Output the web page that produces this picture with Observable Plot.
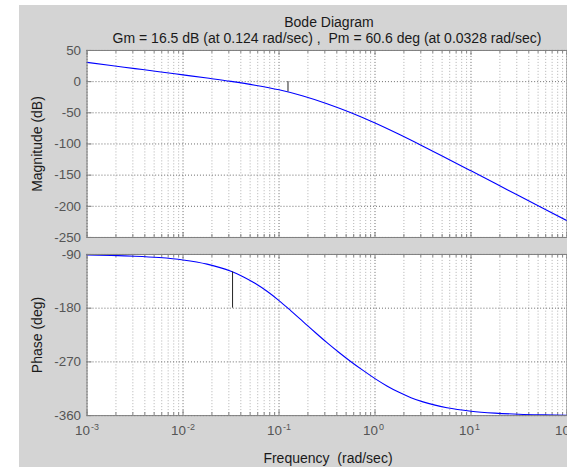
<!DOCTYPE html>
<html><head><meta charset="utf-8">
<script src="https://cdn.jsdelivr.net/npm/d3@7"></script>
<script src="https://cdn.jsdelivr.net/npm/@observablehq/plot@0.6"></script>
<style>
html,body{margin:0;padding:0;background:#fff;overflow:hidden;}
#fig{position:relative;width:567px;height:469px;overflow:hidden;background:#fff;font-family:"Liberation Sans",Arial,sans-serif;}
#bg{position:absolute;left:19px;top:5px;width:548px;height:462px;background:#d4d4d4;}
#fig svg.pl{position:absolute;left:0;}
#ov{position:absolute;left:0;top:0;}
#ov text{white-space:pre;}
</style></head><body><div id="fig"><div id="bg"></div></div>
<script>
// ---- data ----
const titleText = "Bode Diagram";
const subtitleText = "Gm = 16.5 dB (at 0.124 rad/sec) ,  Pm = 60.6 deg (at 0.0328 rad/sec)";
const magFreq = [0.001,0.00178,0.00316,0.00562,0.01,0.0178,0.0316,0.0562,0.1,0.178,0.316,0.562,1,1.78,3.16,5.62,10,17.8,31.6,56.2,100];
const magDb   = [30.9,25.9,20.9,15.9,10.8,5.7,0.4,-5.7,-13.1,-23.0,-35.4,-49.9,-66.3,-84.4,-103.5,-123.2,-143.1,-163.1,-183.1,-203.1,-223.1];
const phaseFreq = [0.001,0.00178,0.00316,0.00562,0.01,0.0178,0.0316,0.0422,0.0562,0.075,0.1,0.133,0.178,0.237,0.316,0.422,0.562,0.75,1,1.33,1.78,2.37,3.16,5.62,10,17.8,31.6,56.2,100];
const phaseDeg  = [-90.9,-91.6,-92.9,-95.2,-99.2,-106.2,-118.3,-127.2,-138.3,-151.7,-167.3,-184.4,-202.4,-220.3,-237.7,-254.2,-269.7,-284.3,-298.0,-310.3,-321.0,-329.9,-337.0,-346.9,-352.6,-355.8,-357.7,-358.7,-359.3];
const gmFreq = 0.124, gmDb = 16.5;
const pmFreq = 0.0328, pmDeg = 60.6;
const magTicks = [50,0,-50,-100,-150,-200,-250];
const phaseTicks = [-90,-180,-270,-360];
const decades = [1e-3,1e-2,1e-1,1,10,100];
const decadeExp = ["-3","-2","-1","0","1","2"];

const minor = decades.slice(0,-1).flatMap(d => [2,3,4,5,6,7,8,9].map(k => k*d));
const magData = magFreq.map((f,i)=>({f, v: magDb[i]}));
const phData = phaseFreq.map((f,i)=>({f, v: phaseDeg[i]}));
const font = '"Liberation Sans", Arial, sans-serif';
const gridMajor = "#6a6a6a", gridMinor = "#b0b0b0";

function panel({data, domain, ticks, innerH, mTop, mBottom, extra, pxPerUnit}) {
  const top = domain[1], bot = domain[0];
  const u = px => px / pxPerUnit;
  const tickMarks = [
    Plot.ruleX(minor, {y1: top, y2: top - u(3), stroke: "#7f7f7f"}),
    Plot.ruleX(minor, {y1: bot, y2: bot + u(3), stroke: "#7f7f7f"}),
    Plot.ruleX(decades, {y1: top, y2: top - u(5), stroke: "#7f7f7f"}),
    Plot.ruleX(decades, {y1: bot, y2: bot + u(5), stroke: "#7f7f7f"}),
    Plot.ruleY(ticks, {x1: 1e-3, x2: 1.127e-3, stroke: "#7f7f7f"})
  ];
  return Plot.plot({
    width: 570, height: mTop + innerH + mBottom,
    marginLeft: 87, marginRight: 0.5, marginTop: mTop, marginBottom: mBottom,
    style: {background: "transparent", fontFamily: font, fontSize: "13.5px", color: "#555555", overflow: "visible"},
    x: {type: "log", domain: [1e-3, 1e2], axis: null},
    y: {domain, ticks, tickSize: 0, tickPadding: 6, tickFormat: d => String(d), label: null},
    marks: [
      Plot.frame({fill: "white", stroke: "none"}),
      Plot.ruleX(minor, {stroke: gridMinor, strokeDasharray: "1,2"}),
      Plot.ruleX(decades, {stroke: gridMajor, strokeDasharray: "1,2"}),
      Plot.ruleY(ticks, {stroke: gridMajor, strokeDasharray: "1,2"}),
      ...tickMarks,
      Plot.line(data, {x: "f", y: "v", stroke: "#0000ff", strokeWidth: 1.1, curve: "monotone-x"}),
      ...extra,
      Plot.frame({stroke: "#7f7f7f"})
    ]
  });
}

const mag = panel({
  data: magData, domain: [-250, 50], ticks: magTicks, innerH: 188, mTop: 6, mBottom: 6,
  pxPerUnit: 188/300,
  extra: [Plot.ruleX([gmFreq], {y1: 0, y2: -gmDb, stroke: "#222"})]
});
mag.classList.add("pl"); mag.style.top = "44px";

const ph = panel({
  data: phData, domain: [-360, -90], ticks: phaseTicks, innerH: 162, mTop: 6, mBottom: 50,
  pxPerUnit: 162/270,
  extra: [
    Plot.ruleX([pmFreq], {y1: -180, y2: -180 + pmDeg, stroke: "#222"}),
    Plot.text(decades, {x: d => d, frameAnchor: "bottom", text: () => "10", textAnchor: "end", dx: 3, dy: 19.5, fill: "#555555", fontSize: 13.5}),
    Plot.text(decades, {x: d => d, frameAnchor: "bottom", text: (d, i) => decadeExp[i], textAnchor: "start", dx: 4, dy: 14, fill: "#555555", fontSize: 9})
  ]
});
ph.classList.add("pl"); ph.style.top = "248px";

const fig = document.getElementById("fig");
fig.appendChild(mag);
fig.appendChild(ph);

const ov = d3.select(fig).append("svg").attr("id","ov").attr("width",567).attr("height",469)
  .style("font-family", font).style("font-size","14px").style("fill","#1a1a1a");
ov.append("text").attr("x",329).attr("y",26.5).attr("text-anchor","middle").text(titleText);
ov.append("text").attr("x",327).attr("y",42.5).attr("text-anchor","middle").text(subtitleText);
ov.append("text").attr("transform","translate(42,144) rotate(-90)").attr("text-anchor","middle").text("Magnitude (dB)");
ov.append("text").attr("transform","translate(42,335) rotate(-90)").attr("text-anchor","middle").text("Phase (deg)");
ov.append("text").attr("x",328).attr("y",463).attr("text-anchor","middle").text("Frequency  (rad/sec)");
</script></body></html>
